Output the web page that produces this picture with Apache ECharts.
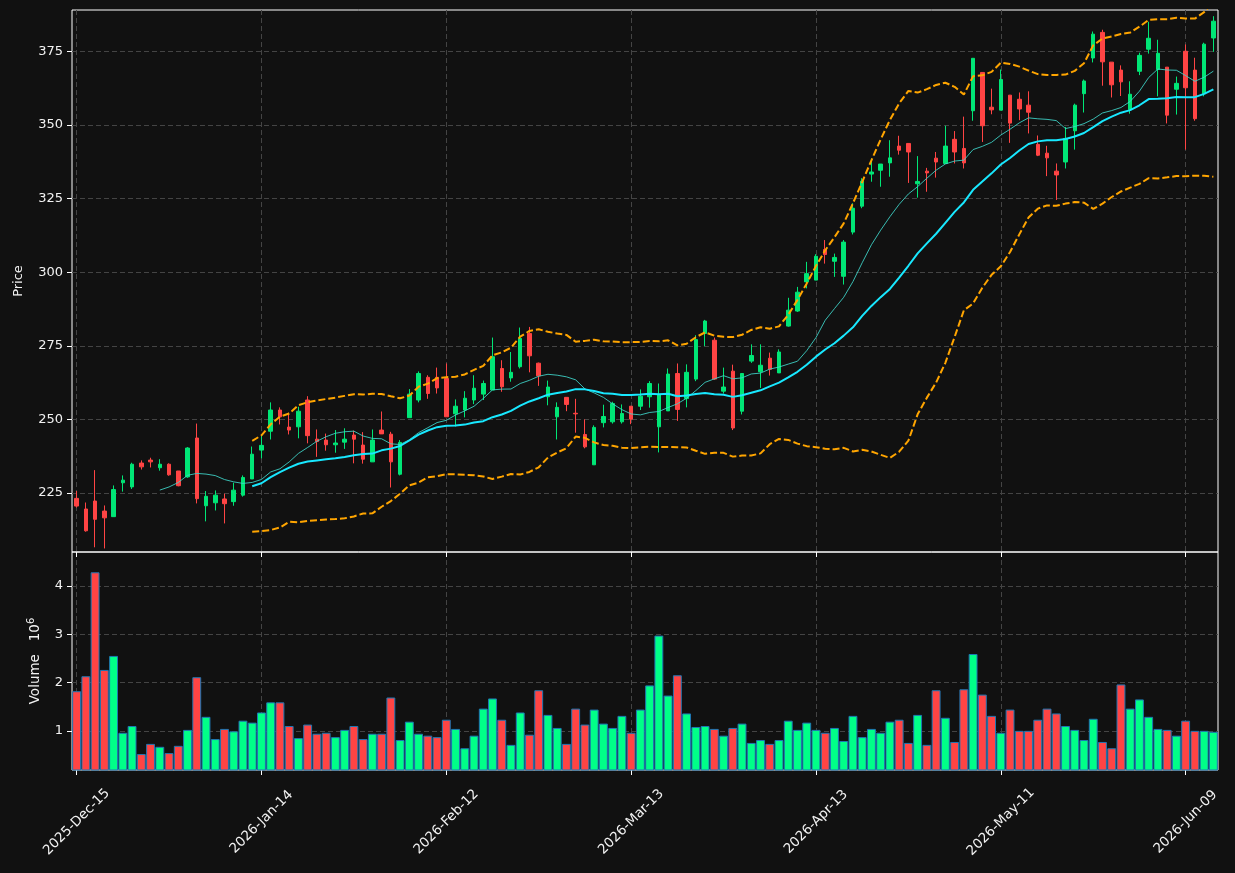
<!DOCTYPE html>
<html style="height: 100%">
   <head>
       <meta charset="utf-8">
   </head>
   <body style="height: 100%; margin: 0; background: #111111">
       <div id="container" style="width: 1235px; height: 873px"></div>
       <script type="text/javascript" src="https://cdn.jsdelivr.net/npm/echarts@6/dist/echarts.min.js"></script>
       <script type="text/javascript">
// trading calendar (weekends + exchange holidays skipped)
var startDay = [2025, 11, 15];
var holidays = ['2025-12-25', '2026-01-01', '2026-01-19', '2026-02-16', '2026-04-03', '2026-05-25'];
var monthNames = ['Jan','Feb','Mar','Apr','May','Jun','Jul','Aug','Sep','Oct','Nov','Dec'];

var opens = [
    223.2,219.6,222.3,218.9,217.0,228.5,227.1,235.2,236.2,233.6,
    234.8,232.5,230.5,243.7,220.7,221.7,223.0,222.1,224.3,229.8,
    239.6,246.0,253.2,247.4,247.5,256.6,243.3,243.0,241.4,242.3,
    244.7,241.3,235.6,246.4,245.0,231.4,250.6,256.6,264.3,264.3,
    263.9,251.9,253.2,256.6,258.6,260.0,267.3,264.1,267.9,279.2,
    269.1,257.7,250.9,257.5,252.1,244.9,234.6,248.9,249.2,249.2,
    254.5,254.5,257.7,247.5,252.9,265.6,257.1,263.7,279.2,276.9,
    259.6,266.4,252.8,269.8,266.2,270.8,265.8,281.7,286.8,296.7,
    297.3,307.7,303.7,298.6,313.6,322.4,333.3,334.6,337.1,342.8,
    343.7,330.0,334.3,338.7,336.9,345.1,342.0,354.8,367.8,356.0,
    355.0,360.1,358.7,356.7,343.4,340.4,334.3,337.4,348.0,360.6,
    372.7,381.4,371.3,368.6,355.2,368.2,375.7,368.8,369.6,362.1,
    375.0,368.6,360.6,379.5
];
var closes = [
    220.6,212.2,216.1,216.6,226.2,229.4,234.8,233.9,235.6,234.8,
    231.2,227.5,240.3,223.1,223.9,224.3,221.4,226.0,230.3,238.2,
    241.2,253.2,250.9,246.4,252.8,244.5,242.5,241.4,242.0,243.3,
    243.3,236.5,243.0,245.1,235.6,242.2,258.6,265.6,258.8,260.7,
    250.9,254.5,257.2,260.6,262.2,271.3,261.1,266.0,277.5,271.6,
    264.8,261.0,254.1,255.1,251.9,240.7,247.3,251.0,255.4,252.0,
    250.1,257.9,262.2,258.5,265.4,253.4,266.0,277.1,283.4,263.7,
    261.0,247.1,265.6,271.7,268.4,267.0,272.9,287.1,293.2,299.5,
    305.4,306.0,305.0,310.2,321.7,330.9,334.0,336.7,338.8,341.4,
    340.8,330.8,333.7,337.4,342.8,340.8,337.1,372.6,349.7,355.1,
    365.4,350.6,355.4,354.3,339.7,338.8,333.0,345.4,356.7,364.9,
    380.8,371.4,363.6,364.6,360.4,373.6,379.4,374.3,353.3,364.1,
    362.6,352.1,377.4,385.2
];
var lows = [
    220.1,211.9,206.6,206.2,217.0,225.5,226.4,233.0,233.7,232.6,
    230.9,227.3,230.2,221.5,215.4,219.1,214.7,220.7,223.8,229.8,
    236.8,243.2,248.3,244.9,243.6,241.9,237.3,239.4,238.7,240.0,
    235.1,235.0,235.6,245.1,226.9,231.0,250.6,255.8,257.0,258.8,
    250.9,247.6,250.7,255.2,256.6,260.0,259.4,262.8,267.3,266.0,
    261.4,254.8,243.2,252.8,245.5,240.2,234.6,247.3,248.6,248.6,
    248.4,253.2,254.0,238.8,252.9,249.5,254.1,263.0,274.9,263.4,
    258.8,246.4,251.7,269.2,260.7,264.9,265.8,281.5,286.5,294.5,
    297.3,302.9,298.4,295.8,312.8,321.7,330.7,329.0,332.4,339.9,
    330.3,325.3,327.3,332.1,336.9,336.9,335.2,351.4,344.2,353.6,
    355.0,343.9,351.6,347.1,339.4,332.6,324.5,335.2,341.6,354.2,
    371.2,363.3,359.3,359.8,353.8,366.9,374.2,359.7,350.5,353.5,
    341.6,351.4,359.7,374.8
];
var highs = [
    225.7,221.8,232.8,220.8,227.6,231.0,235.3,236.1,237.0,236.5,
    235.1,232.5,240.6,248.6,225.7,225.9,224.8,228.5,231.0,240.8,
    244.5,255.8,254.1,252.3,254.3,257.9,246.6,245.2,246.4,247.0,
    246.2,245.7,246.6,252.7,245.8,243.0,260.3,266.3,265.0,267.6,
    269.0,256.8,259.6,265.0,263.2,277.8,270.1,272.9,281.2,281.4,
    269.3,263.2,255.8,257.5,257.0,250.0,248.0,255.0,256.0,255.1,
    254.5,260.2,263.0,262.2,267.3,269.0,268.7,278.6,283.8,277.8,
    267.6,268.6,265.6,275.5,275.5,272.7,273.8,291.3,295.0,303.5,
    306.1,310.9,306.3,310.9,323.4,331.9,338.6,336.7,344.8,346.3,
    343.7,339.4,335.4,340.8,349.7,347.9,352.8,372.6,367.8,362.3,
    368.8,360.1,361.0,361.4,346.4,342.9,336.9,349.3,357.2,365.4,
    381.7,382.3,371.3,370.2,364.8,374.5,385.0,378.9,369.6,366.4,
    377.3,372.8,377.9,386.9
];
// volume in millions
var volumes = [
    1.82,2.13,4.28,2.26,2.55,0.96,1.10,0.52,0.73,0.67,
    0.54,0.69,1.02,2.11,1.29,0.83,1.04,0.99,1.21,1.17,
    1.38,1.59,1.59,1.10,0.85,1.13,0.94,0.96,0.87,1.02,
    1.10,0.83,0.94,0.94,1.69,0.81,1.19,0.94,0.90,0.87,
    1.23,1.04,0.64,0.90,1.46,1.67,1.23,0.71,1.38,0.92,
    1.84,1.33,1.06,0.73,1.46,1.13,1.44,1.15,1.06,1.31,
    0.96,1.44,1.94,2.97,1.73,2.15,1.36,1.08,1.10,1.04,
    0.90,1.06,1.15,0.75,0.81,0.73,0.81,1.21,1.02,1.17,
    1.02,0.96,1.06,0.79,1.31,0.87,1.04,0.96,1.19,1.23,
    0.75,1.33,0.71,1.84,1.27,0.77,1.86,2.59,1.75,1.31,
    0.96,1.44,1.00,1.00,1.23,1.46,1.36,1.10,1.02,0.81,
    1.25,0.77,0.64,1.96,1.46,1.65,1.29,1.04,1.02,0.90,
    1.21,1.00,1.00,0.98
];
var priceTicks = [225, 250, 275, 300, 325, 350, 375];
var volumeTicks = [1, 2, 3, 4];

var UP = '#00e676', DOWN = '#ff4444';
var UP_VOL = '#00ff88', DOWN_VOL = '#ff4444';
var TXT = '#f2f2f2', GRID = '#444444';

function tradingDays(n) {
    var out = [];
    var d = new Date(Date.UTC(startDay[0], startDay[1], startDay[2]));
    while (out.length < n) {
        var wd = d.getUTCDay();
        var iso = d.toISOString().slice(0, 10);
        if (wd !== 0 && wd !== 6 && holidays.indexOf(iso) < 0) {
            out.push(d.getUTCFullYear() + '-' + monthNames[d.getUTCMonth()] + '-' +
                String(d.getUTCDate()).padStart(2, '0'));
        }
        d.setUTCDate(d.getUTCDate() + 1);
    }
    return out;
}

function rollingMean(arr, n) {
    return arr.map(function (v, i) {
        if (i < n - 1) return '-';
        var s = 0;
        for (var k = i - n + 1; k <= i; k++) s += arr[k];
        return s / n;
    });
}

function band(arr, n, mult) {
    return arr.map(function (v, i) {
        if (i < n - 1) return '-';
        var s = 0, k;
        for (k = i - n + 1; k <= i; k++) s += arr[k];
        var m = s / n, q = 0;
        for (k = i - n + 1; k <= i; k++) q += (arr[k] - m) * (arr[k] - m);
        return m + mult * Math.sqrt(q / (n - 1));
    });
}

var dates = tradingDays(closes.length);
var ohlc = opens.map(function (o, i) { return [o, closes[i], lows[i], highs[i]]; });
var volData = volumes.map(function (v, i) {
    return {value: v, itemStyle: {color: closes[i] >= opens[i] ? UP_VOL : DOWN_VOL}};
});
var sma20 = rollingMean(closes, 20);
var sma10 = rollingMean(closes, 10);
var upper = band(closes, 20, 2);
var lower = band(closes, 20, -2);

var dom = document.getElementById("container");
var myChart = echarts.init(dom);

function xAxisFor(gi, labels) {
    return {
        type: 'category',
        gridIndex: gi,
        data: dates,
        boundaryGap: true,
        axisLine: {show: false},
        axisTick: {show: true, interval: 19, alignWithLabel: true, length: 5, lineStyle: {color: '#ffffff'}},
        axisLabel: {
            show: labels, interval: 19, rotate: 45, color: TXT, fontSize: 13.5, margin: 52,
            align: 'center', verticalAlign: 'middle', fontFamily: 'DejaVu Sans'
        },
        splitLine: {show: true, interval: 19, alignWithLabel: true, lineStyle: {color: GRID, type: [5, 3]}}
    };
}

var option = {
    backgroundColor: '#111111',
    animation: false,
    textStyle: {fontFamily: 'DejaVu Sans'},
    grid: [
        {left: 72, right: 17, top: 10, height: 542, show: true, borderColor: '#ffffff', borderWidth: 1, backgroundColor: 'transparent'},
        {left: 72, right: 17, top: 552, height: 218, show: true, borderColor: '#ffffff', borderWidth: 1, backgroundColor: 'transparent'}
    ],
    xAxis: [xAxisFor(0, false), xAxisFor(1, true)],
    yAxis: [
        {
            type: 'value', gridIndex: 0, min: 205, max: 389,
            name: 'Price', nameLocation: 'middle', nameGap: 47,
            nameTextStyle: {color: TXT, fontSize: 13},
            axisLine: {show: false},
            axisTick: {show: true, length: 5, customValues: priceTicks, lineStyle: {color: '#ffffff'}},
            axisLabel: {color: TXT, fontSize: 13, margin: 9, customValues: priceTicks},
            splitLine: {show: true, lineStyle: {color: GRID, type: [5, 3]}}
        },
        {
            type: 'value', gridIndex: 1, min: 0.19, max: 4.7,
            name: 'Volume   10{sup|6}', nameLocation: 'middle', nameGap: 27,
            nameTextStyle: {color: TXT, fontSize: 13.5, rich: {sup: {color: TXT, fontSize: 10, verticalAlign: 'top', lineHeight: 19}}},
            axisLine: {show: false},
            axisTick: {show: true, length: 5, customValues: volumeTicks, lineStyle: {color: '#ffffff'}},
            axisLabel: {color: TXT, fontSize: 13, margin: 9, customValues: volumeTicks},
            splitLine: {show: true, lineStyle: {color: GRID, type: [5, 3]}}
        }
    ],
    series: [
        {
            name: 'Price', type: 'candlestick', xAxisIndex: 0, yAxisIndex: 0,
            data: ohlc, barWidth: 4,
            itemStyle: {color: UP, color0: DOWN, borderColor: UP, borderColor0: DOWN, borderWidth: 1}
        },
        {
            name: 'Upper', type: 'line', xAxisIndex: 0, yAxisIndex: 0, data: upper,
            showSymbol: false, lineStyle: {color: '#ffa500', width: 2, type: [7, 3]}
        },
        {
            name: 'Lower', type: 'line', xAxisIndex: 0, yAxisIndex: 0, data: lower,
            showSymbol: false, lineStyle: {color: '#ffa500', width: 2, type: [7, 3]}
        },
        {
            name: 'MA10', type: 'line', xAxisIndex: 0, yAxisIndex: 0, data: sma10,
            showSymbol: false, lineStyle: {color: '#40d8cc', width: 1, opacity: 0.85}
        },
        {
            name: 'MA20', type: 'line', xAxisIndex: 0, yAxisIndex: 0, data: sma20,
            showSymbol: false, lineStyle: {color: '#18e8ff', width: 2}
        },
        {
            name: 'Volume', type: 'bar', xAxisIndex: 1, yAxisIndex: 1, data: volData,
            barCategoryGap: '4%',
            itemStyle: {borderColor: '#1f77b4', borderWidth: 1}
        }
    ]
};
myChart.setOption(option, true);
       </script>
   </body>
</html>
